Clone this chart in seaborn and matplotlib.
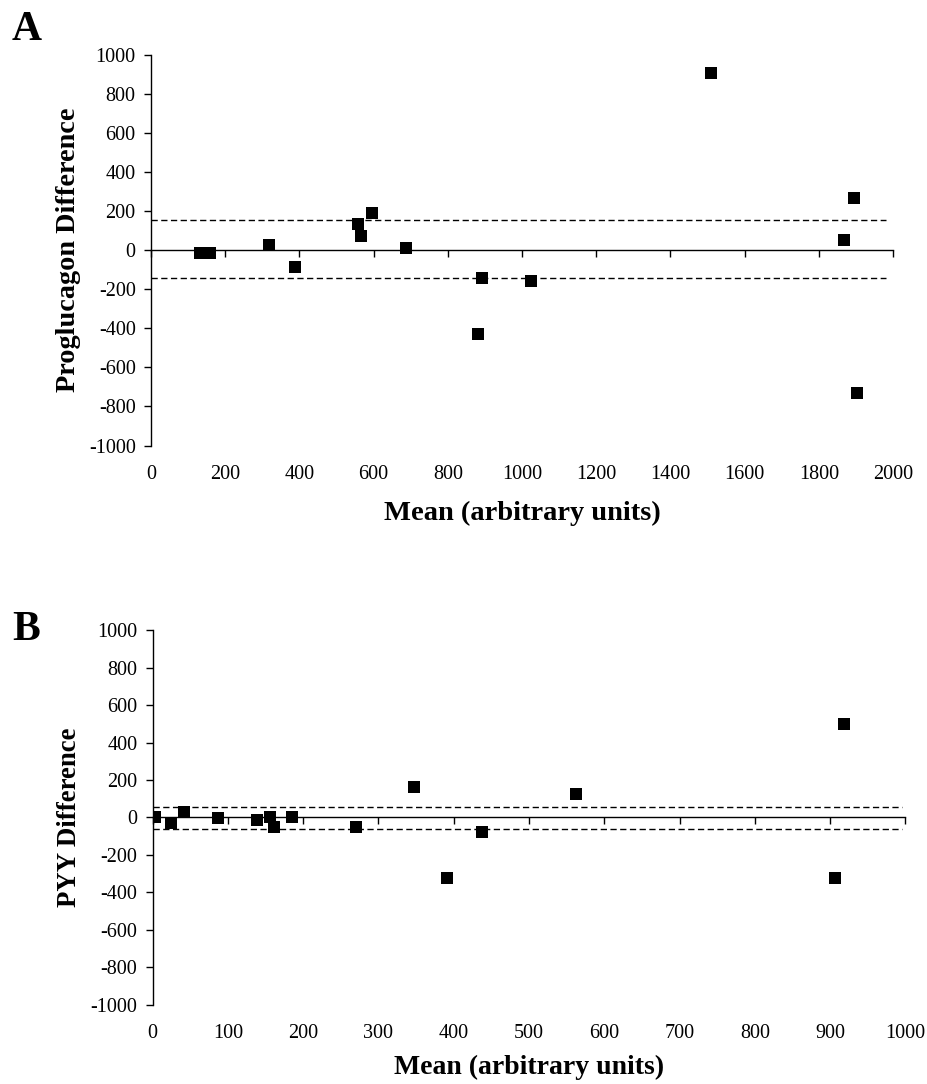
import matplotlib
matplotlib.use("Agg")
import matplotlib.pyplot as plt
import seaborn as sns
import numpy as np
import pandas as pd

# ---- data ----
progluc_mean = [132, 159, 319, 387, 557, 565, 597, 688, 881, 892, 1024, 1509, 1869, 1895, 1902]
progluc_diff = [-15, -15, 29, -85, 135, 75, 193, 9, -427, -140, -157, 906, 51, 270, -732]
progluc_loa = [154, -144]

pyy_mean = [3.5, 25, 41, 87, 139, 156, 161, 185, 270, 347, 391, 438, 562, 906, 918]
pyy_diff = [0, -29, 27, -5, -14, 3, -50, 2, -50, 162, -325, -78, 124, -325, 500]
pyy_loa = [57, -64]

x_label = "Mean (arbitrary units)"
y_labels = ["Proglucagon Difference", "PYY Difference"]
panel_letters = ["A", "B"]

sns.set_theme(style="white")
plt.rcParams["font.family"] = ["Liberation Serif", "DejaVu Serif"]
plt.rcParams["axes.unicode_minus"] = False

fig = plt.figure(figsize=(9.27, 10.84), dpi=100)
axA = fig.add_axes([0.1629, 0.589, 0.8004, 0.3603])
axB = fig.add_axes([0.1647, 0.0729, 0.812, 0.3459])


def draw(ax, xs, ys, loa, xmax, xstep, loa_end, ylabel, ylab_size, xlab_size, xlab_pad):
    df = pd.DataFrame({"x": xs, "y": ys})
    sns.scatterplot(data=df, x="x", y="y", ax=ax, marker="s", s=76,
                    color="black", edgecolor="black", linewidth=0, zorder=3)
    ax.hlines(loa, 0, loa_end, colors="black", linewidth=1.0,
              linestyles=(0, (4.5, 2.5)), zorder=2)
    ax.set_xlim(0, xmax)
    ax.set_ylim(-1000, 1000)
    ticks = np.arange(0, xmax + 1, xstep)
    ax.set_xticks(ticks)
    ax.set_yticks(np.arange(-1000, 1001, 200))
    for s in ["top", "right"]:
        ax.spines[s].set_visible(False)
    ax.spines["bottom"].set_position(("data", 0))
    for s in ["bottom", "left"]:
        ax.spines[s].set_color("black")
        ax.spines[s].set_linewidth(1.0)
    ax.tick_params(axis="x", direction="out", length=5, width=1, color="black",
                   bottom=True, labelbottom=False)
    ax.tick_params(axis="y", direction="out", length=5, width=1, color="black",
                   left=True, labelsize=14.5, pad=6, labelcolor="black")
    ax.set_xlabel("")
    ax.set_ylabel(ylabel, fontsize=ylab_size, fontweight="bold", labelpad=6, color="black")
    sec = ax.secondary_xaxis("bottom")
    sec.spines["bottom"].set_visible(False)
    sec.set_xticks(ticks)
    sec.tick_params(length=0, pad=14, labelsize=14.5, labelcolor="black")
    sec.set_xlabel(x_label, fontsize=xlab_size, fontweight="bold", labelpad=xlab_pad, color="black")


draw(axA, progluc_mean, progluc_diff, progluc_loa, 2000, 200, 1980, y_labels[0], 20.3, 20.5, 12)
draw(axB, pyy_mean, pyy_diff, pyy_loa, 1000, 100, 995, y_labels[1], 19.3, 20, 8)

fig.text(0.013, 0.963, panel_letters[0], fontsize=30, fontweight="bold",
         va="baseline", color="black")
fig.text(0.013, 0.4096, panel_letters[1], fontsize=30, fontweight="bold",
         va="baseline", color="black")

fig.savefig("out.png", dpi=100, facecolor="white")
